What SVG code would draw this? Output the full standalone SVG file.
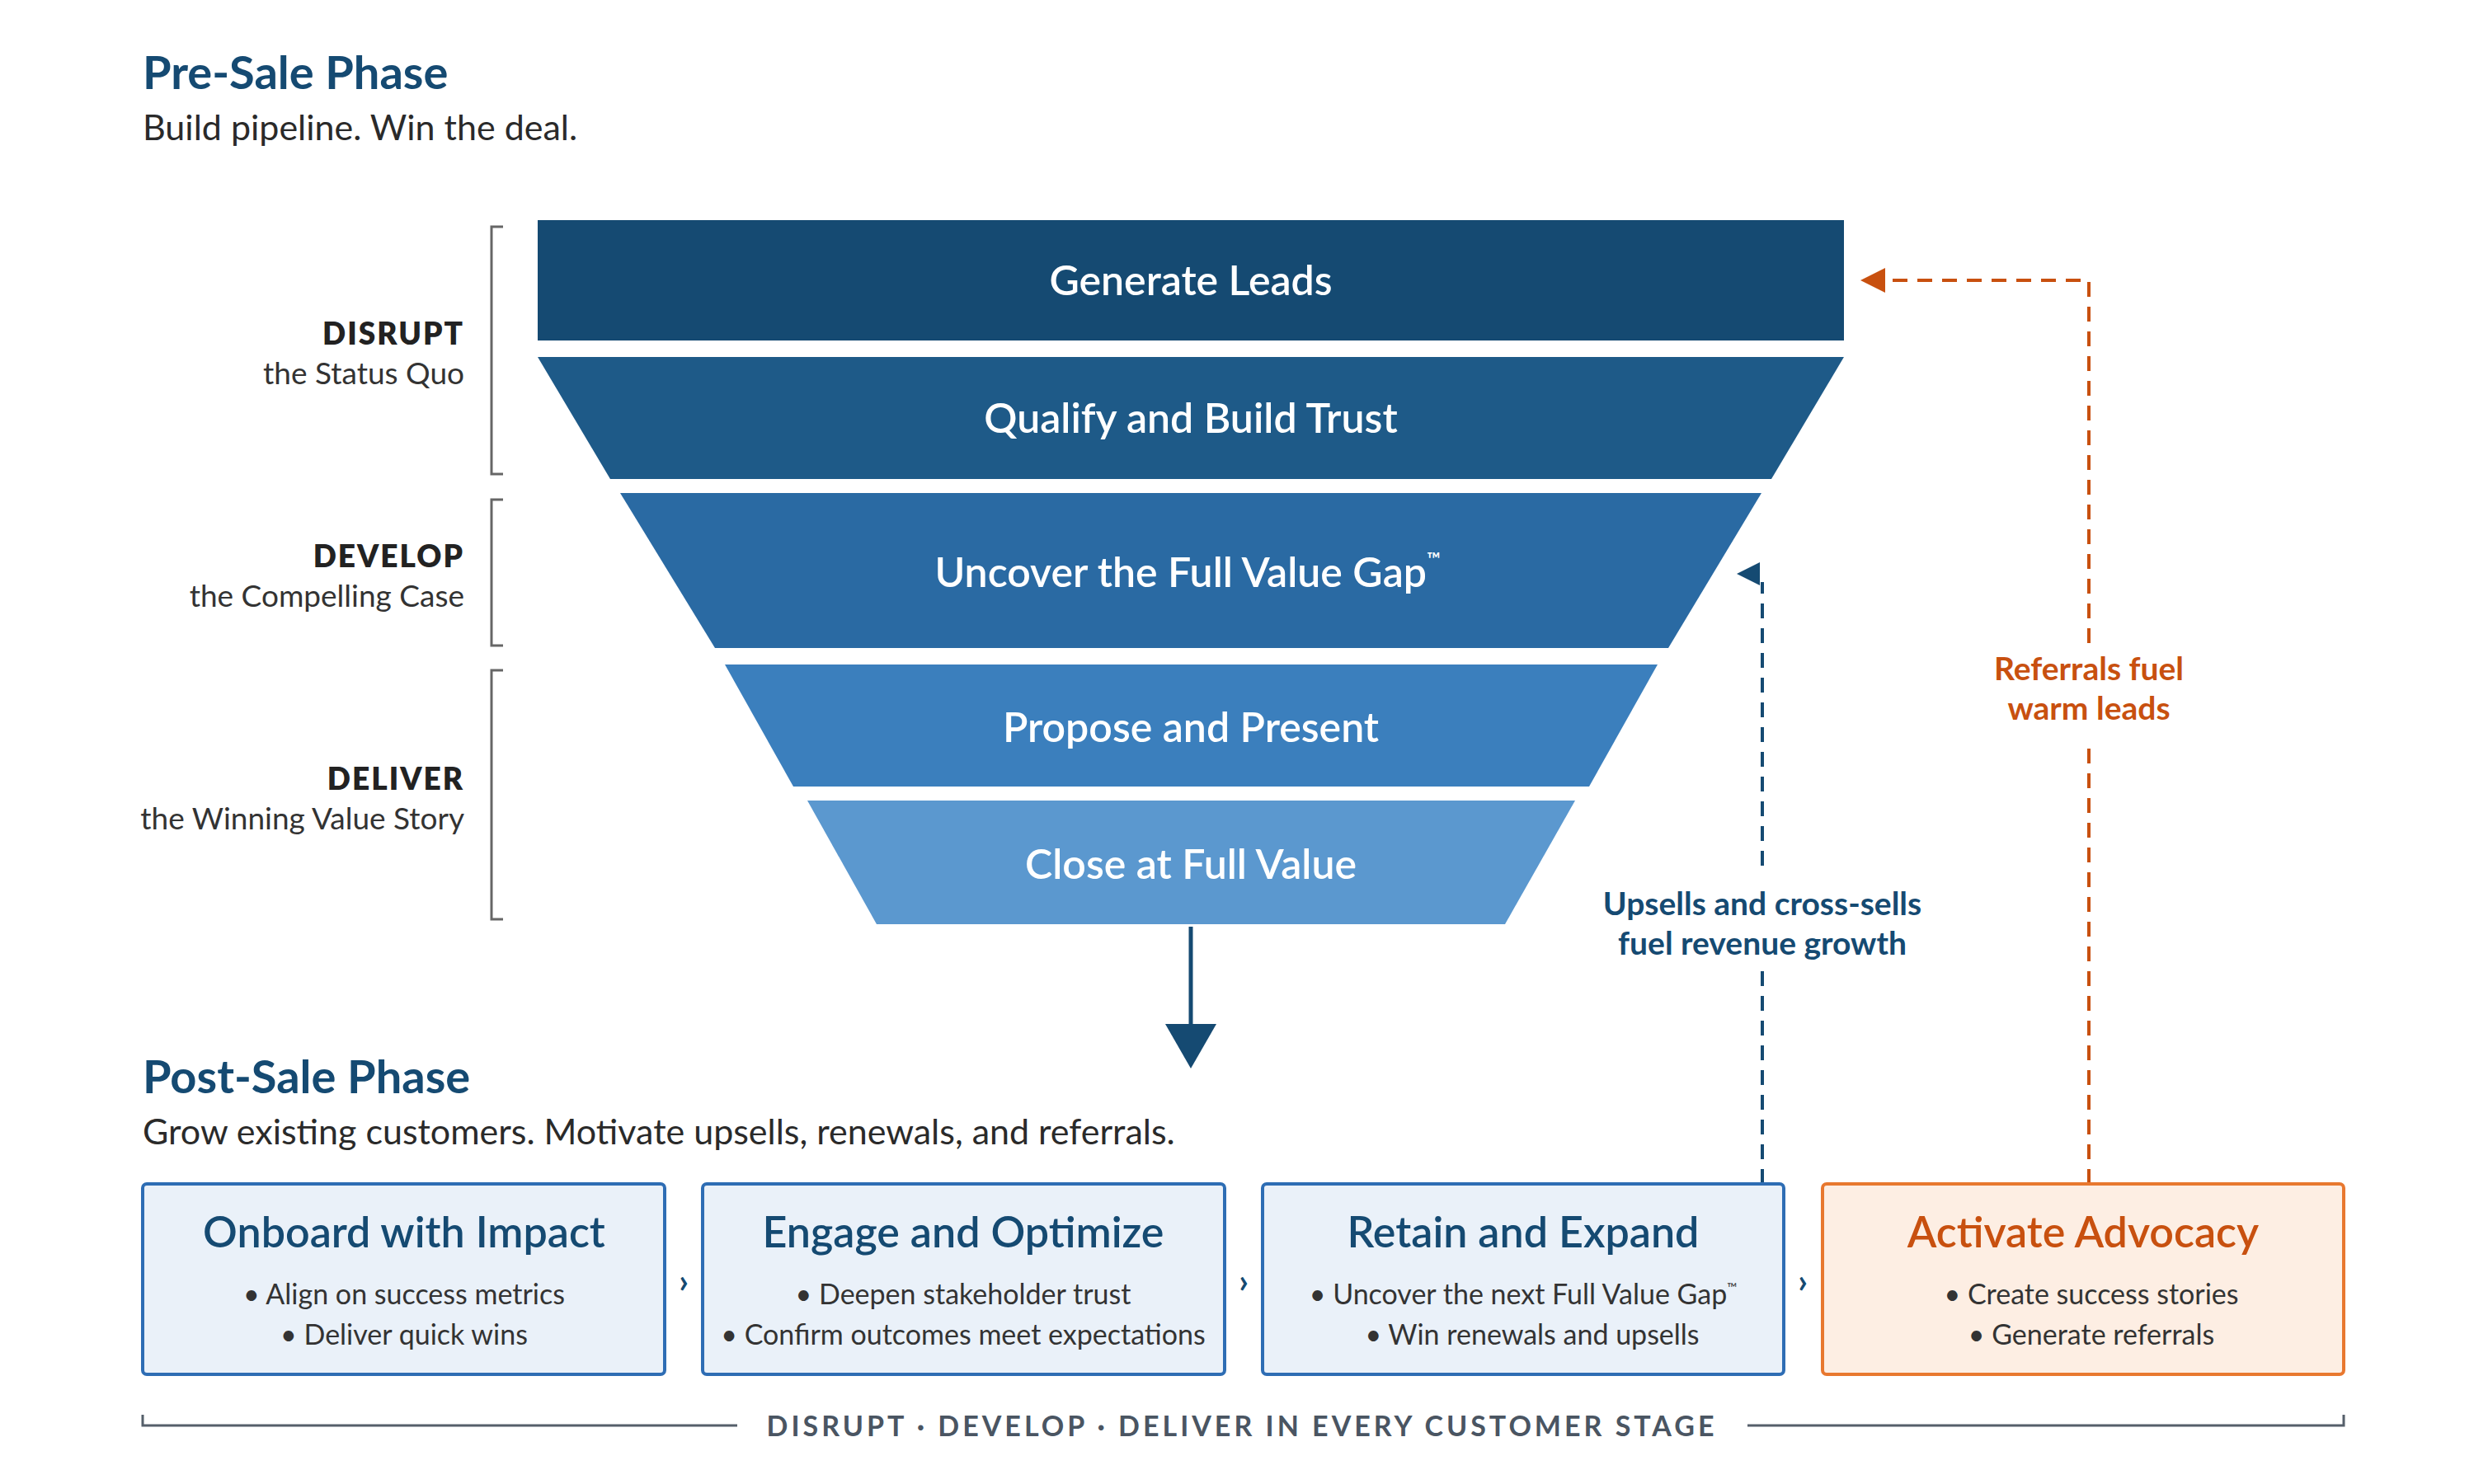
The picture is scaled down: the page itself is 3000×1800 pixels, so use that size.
<svg xmlns="http://www.w3.org/2000/svg" width="3000" height="1800" viewBox="0 0 3000 1800">
<defs>
<style>
text{font-family:Lato,"Open Sans",sans-serif}
.h{font-size:56px;font-weight:700;fill:#154a72}
.sub{font-size:43px;fill:#2a2a2a}
.st{font-size:50px;font-weight:600;fill:#fff;text-anchor:middle}
.lb{font-size:37px;font-weight:800;fill:#222;text-anchor:end;letter-spacing:2px}
.ls{font-size:37px;fill:#333;text-anchor:end}
.bt{font-size:52px;font-weight:600;fill:#154a72;text-anchor:middle}
.bl{font-size:34px;fill:#333;text-anchor:middle}
.box{fill:#eaf1f9;stroke:#2e6db4;stroke-width:4}
.brk{fill:none;stroke:#666;stroke-width:3}
.chev{font-size:40px;font-weight:700;fill:#154a72;text-anchor:middle}
</style>
<marker id="ab" viewBox="0 0 10 10" refX="0" refY="5" markerWidth="10" markerHeight="10" markerUnits="userSpaceOnUse" orient="auto"/>
</defs>
<rect width="3000" height="1800" fill="#fff"/>
<text class="h" x="173" y="108">Pre-Sale Phase</text>
<text class="sub" x="173" y="170">Build pipeline. Win the deal.</text>

<g id="labels">
<path class="brk" d="M610 275H596V575H610"/>
<path class="brk" d="M610 606H596V783H610"/>
<path class="brk" d="M610 813H596V1115H610"/>
<text class="lb" x="563" y="418">DISRUPT</text><text class="ls" x="563" y="466">the Status Quo</text>
<text class="lb" x="563" y="688">DEVELOP</text><text class="ls" x="563" y="736">the Compelling Case</text>
<text class="lb" x="563" y="958">DELIVER</text><text class="ls" x="563" y="1006">the Winning Value Story</text>
</g>

<g id="s1"><rect x="652" y="267" width="1584" height="146" fill="#154a72"/><text class="st" x="1444" y="358">Generate Leads</text></g>
<g id="s2"><path d="M652 433H2236L2148 581H740Z" fill="#1e5a88"/><text class="st" x="1444" y="525">Qualify and Build Trust</text></g>
<g id="s3"><path d="M752 598H2136L2023 786H867Z" fill="#2a6aa3"/><text class="st" x="1440" y="712">Uncover the Full Value Gap<tspan font-size="22" dy="-26">™</tspan></text></g>
<g id="s4"><path d="M879 806H2010L1927 954H962Z" fill="#3b7fbd"/><text class="st" x="1444" y="900">Propose and Present</text></g>
<g id="s5"><path d="M979 971H1910L1825 1121H1063Z" fill="#5b98cf"/><text class="st" x="1444" y="1066">Close at Full Value</text></g>

<g id="connectors">
<line x1="1444" y1="1124" x2="1444" y2="1250" stroke="#154a72" stroke-width="5"/>
<path d="M1413 1242H1475L1444 1296Z" fill="#154a72"/>
<path d="M2137 1436V1175M2137 1050V706" fill="none" stroke="#154a72" stroke-width="4" stroke-dasharray="18 12"/>
<path d="M2106 696L2134 682V710Z" fill="#154a72"/>
<path d="M2533 1436V905M2533 780V340H2285" fill="none" stroke="#c8500f" stroke-width="4" stroke-dasharray="18 12"/>
<path d="M2256 340L2286 325V355Z" fill="#c8500f"/>
<text x="2137" y="1110" font-size="39" font-weight="700" fill="#154a72" text-anchor="middle">Upsells and cross-sells</text>
<text x="2137" y="1158" font-size="39" font-weight="700" fill="#154a72" text-anchor="middle">fuel revenue growth</text>
<text x="2533" y="825" font-size="39" font-weight="700" fill="#c8500f" text-anchor="middle">Referrals fuel</text>
<text x="2533" y="873" font-size="39" font-weight="700" fill="#c8500f" text-anchor="middle">warm leads</text>
<text class="chev" x="829" y="1568">›</text>
<text class="chev" x="1508" y="1568">›</text>
<text class="chev" x="2186" y="1568">›</text>
</g>

<text class="h" x="173" y="1326">Post-Sale Phase</text>
<text class="sub" x="173" y="1388">Grow existing customers. Motivate upsells, renewals, and referrals.</text>

<g id="b1"><rect class="box" x="173" y="1436" width="633" height="231" rx="5"/><text class="bt" x="490" y="1513">Onboard with Impact</text><text class="bl" x="490" y="1582">• Align on success metrics</text><text class="bl" x="490" y="1631">• Deliver quick wins</text></g>
<g id="b2"><rect class="box" x="852" y="1436" width="633" height="231" rx="5"/><text class="bt" x="1168" y="1513">Engage and Optimize</text><text class="bl" x="1168" y="1582">• Deepen stakeholder trust</text><text class="bl" x="1168" y="1631">• Confirm outcomes meet expectations</text></g>
<g id="b3"><rect class="box" x="1531" y="1436" width="632" height="231" rx="5"/><text class="bt" x="1847" y="1513">Retain and Expand</text><text class="bl" x="1847" y="1582">• Uncover the next Full Value Gap<tspan font-size="16" dy="-14">™</tspan></text><text class="bl" x="1858" y="1631">• Win renewals and upsells</text></g>
<g id="b4"><rect x="2210" y="1436" width="632" height="231" rx="5" fill="#fdeee3" stroke="#e8782f" stroke-width="4"/><text class="bt" x="2526" y="1513" style="fill:#c8500f">Activate Advocacy</text><text class="bl" x="2536" y="1582">• Create success stories</text><text class="bl" x="2536" y="1631">• Generate referrals</text></g>

<g id="footer">
<path d="M173 1716V1729H894M2119 1729H2842V1716" fill="none" stroke="#555f6a" stroke-width="3"/>
<text x="1506" y="1742" font-size="34" font-weight="700" fill="#4a5562" text-anchor="middle" letter-spacing="4">DISRUPT · DEVELOP · DELIVER  IN EVERY CUSTOMER STAGE</text>
</g>
</svg>
